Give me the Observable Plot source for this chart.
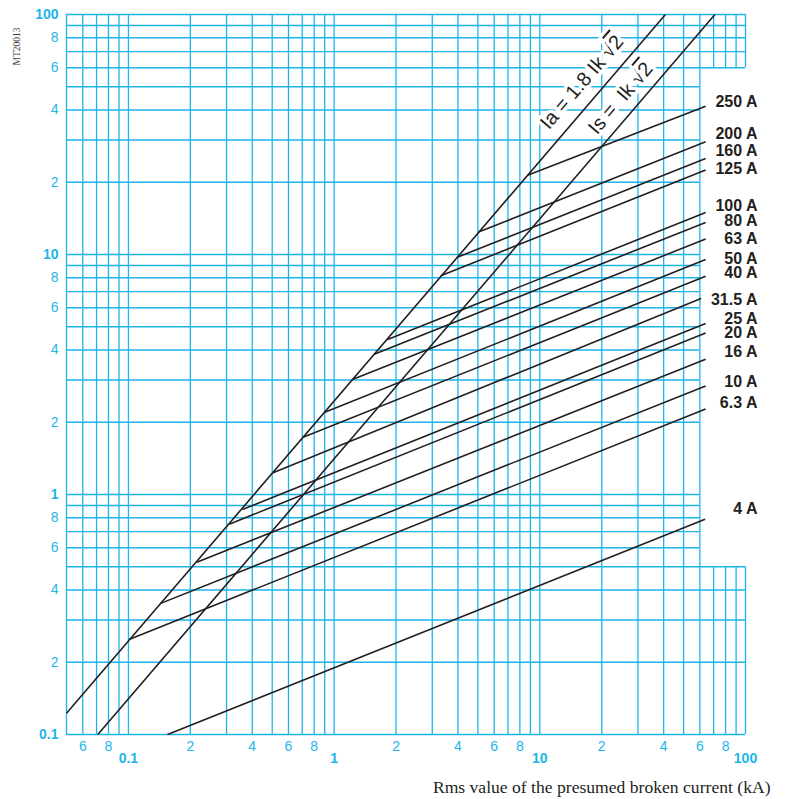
<!DOCTYPE html>
<html><head><meta charset="utf-8">
<script src="https://cdn.jsdelivr.net/npm/d3@7"></script>
<script src="https://cdn.jsdelivr.net/npm/@observablehq/plot@0.6"></script>
<style>body{margin:0;background:#fff}</style>
</head><body><div id="chart"></div>
<script>
// Fuse ratings and their cut-off curves (kA presumed current -> kA cut-off peak)
const fuseLabels = ["250 A","200 A","160 A","125 A","100 A","80 A","63 A","50 A","40 A","31.5 A","25 A","20 A","16 A","10 A","6.3 A","4 A"];
const fuseStartX = [8.72, 5.04, 3.95, 3.30, 1.82, 1.565, 1.219, 0.901, 0.702, 0.5015, 0.358, 0.309, 0.215, 0.1425, 0.1007, 0.155];
const fuseStartY = [21.4, 12.4, 9.72, 8.15, 4.42, 3.84, 3.01, 2.20, 1.727, 1.23, 0.866, 0.752, 0.522, 0.351, 0.249, 0.1];
const fuseEndX   = [64, 64, 64, 64, 64, 64, 64, 64, 64, 60.8, 64, 64, 64, 64, 64, 63.6];
const fuseEndY   = [41.5, 29.5, 25.1, 22.5, 14.96, 13.6, 11.6, 9.53, 8.12, 6.56, 5.16, 4.71, 3.66, 2.835, 2.27, 0.789];
const labelY     = [43.1, 31.7, 26.9, 22.7, 15.9, 13.8, 11.6, 9.56, 8.36, 6.48, 5.40, 4.70, 3.92, 2.94, 2.42, 0.868];

// Reference lines: asymmetric peak Ia = 1.8 Ik √2 and symmetric peak Is = Ik √2
const peakX = [0.05, 40.8];
const peakY = [0.1225, 100];
const symX  = [0.071, 71];
const symY  = [0.1, 100];
const annPrefix = ["Ia = 1.8 Ik ", "Is =  Ik "];
const annRoot = "√";
const annRadicand = "2";
const annX = [16, 24.7];
const annY = [52.2, 44.8];

// Grid values
const gridXFull = [0.05,0.06,0.07,0.08,0.09,0.1,0.2,0.3,0.4,0.5,0.6,0.7,0.8,0.9,1,2,3,4,5,6,7,8,9,10,20,30,40,50,60];
const gridXPart = [70,80,90,100];
const gridYFull = [0.1,0.2,0.3,0.4,0.5,60,70,80,90,100];
const gridYPart = [0.6,0.7,0.8,0.9,1,2,3,4,5,6,7,8,9,10,20,30,40,50];

// Tick labels
const xMinorTicks  = [0.06,0.08,0.2,0.4,0.6,0.8,2,4,6,8,20,40,60,80];
const xMinorLabels = ["6","8","2","4","6","8","2","4","6","8","2","4","6","8"];
const xMajorTicks  = [0.1,1,10,100];
const xMajorLabels = ["0.1","1","10","100"];
const yMinorTicks  = [0.2,0.4,0.6,0.8,2,4,6,8,20,40,60,80];
const yMinorLabels = ["2","4","6","8","2","4","6","8","2","4","6","8"];
const yMajorTicks  = [0.1,1,10,100];
const yMajorLabels = ["0.1","1","10","100"];

const xTitle = "Rms value of the presumed broken current (kA)";
const code = "MT20013";

const CYAN = "#1db5e9";
const INK = "#231f20";
const idx = fuseLabels.map((_, i) => i);

const chart = Plot.plot({
  width: 786,
  height: 799,
  marginLeft: 66,
  marginRight: 41,
  marginTop: 14,
  marginBottom: 65,
  style: {fontFamily: "'Liberation Sans', Arial, sans-serif", background: "#fff"},
  x: {type: "log", domain: [0.05, 100], axis: null},
  y: {type: "log", domain: [0.1, 100], axis: null},
  marks: [
    Plot.ruleX(gridXFull, {x: d => d, y1: 0.1, y2: 100, stroke: CYAN, strokeWidth: 1.3}),
    Plot.ruleX(gridXPart, {x: d => d, y1: 0.1, y2: 0.5, stroke: CYAN, strokeWidth: 1.3}),
    Plot.ruleX(gridXPart, {x: d => d, y1: 60, y2: 100, stroke: CYAN, strokeWidth: 1.3}),
    Plot.ruleY(gridYFull, {y: d => d, x1: 0.05, x2: 100, stroke: CYAN, strokeWidth: 1.3}),
    Plot.ruleY(gridYPart, {y: d => d, x1: 0.05, x2: 60, stroke: CYAN, strokeWidth: 1.3}),
    // tick labels
    Plot.text(xMinorTicks, {x: d => d, text: (d, i) => xMinorLabels[i], frameAnchor: "bottom", dy: 12, lineAnchor: "middle", fill: CYAN, fontSize: 14}),
    Plot.text(xMajorTicks, {x: d => d, text: (d, i) => xMajorLabels[i], frameAnchor: "bottom", dy: 24, lineAnchor: "middle", fill: CYAN, fontSize: 14, fontWeight: "bold"}),
    Plot.text(yMinorTicks, {y: d => d, text: (d, i) => yMinorLabels[i], frameAnchor: "left", dx: -8, textAnchor: "end", lineAnchor: "middle", fill: CYAN, fontSize: 14}),
    Plot.text(yMajorTicks, {y: d => d, text: (d, i) => yMajorLabels[i], frameAnchor: "left", dx: -8, textAnchor: "end", lineAnchor: "middle", fill: CYAN, fontSize: 14, fontWeight: "bold"}),
    // reference lines
    Plot.link([0], {x1: peakX[0], y1: peakY[0], x2: peakX[1], y2: peakY[1], stroke: INK, strokeWidth: 1.6}),
    Plot.link([0], {x1: symX[0], y1: symY[0], x2: symX[1], y2: symY[1], stroke: INK, strokeWidth: 1.6}),
    // fuse lines
    Plot.link(idx, {x1: i => fuseStartX[i], y1: i => fuseStartY[i], x2: i => fuseEndX[i], y2: i => fuseEndY[i], stroke: INK, strokeWidth: 1.6}),
    Plot.text(idx, {y: i => labelY[i], text: i => fuseLabels[i], frameAnchor: "right", dx: 12, textAnchor: "end", lineAnchor: "middle", fill: INK, fontSize: 16, fontWeight: "bold"}),
    // rotated annotations with white halo
    Plot.text([0, 1], {x: i => annX[i], y: i => annY[i], text: i => annPrefix[i] + annRoot + annRadicand, rotate: -49.4, textAnchor: "middle", lineAnchor: "middle", fill: INK, stroke: "white", strokeWidth: 7, fontSize: 20, className: "ann"}),
    // axis title and code
    Plot.text([xTitle], {text: d => d, frameAnchor: "bottom-right", dx: 25, dy: 53, textAnchor: "end", lineAnchor: "middle", fill: INK, fontSize: 17.6, fontFamily: "'Liberation Serif', 'Times New Roman', serif"}),
    Plot.text([code], {text: d => d, frameAnchor: "top-left", dx: -49.5, dy: 32, rotate: -90, textAnchor: "middle", lineAnchor: "middle", fill: "#444", fontSize: 9.5, fontFamily: "'Liberation Serif', serif"})
  ]
});
// Split each annotation into tspans so the radicand carries the radical's overbar
d3.select(chart).selectAll("g.ann text").each(function(_, k) {
  const t = d3.select(this);
  t.text(null);
  t.append("tspan").text(annPrefix[k] + annRoot);
  t.append("tspan").attr("text-decoration", "overline").style("text-decoration", "overline").text(annRadicand);
});
document.getElementById("chart").appendChild(chart);
</script>
</body></html>
